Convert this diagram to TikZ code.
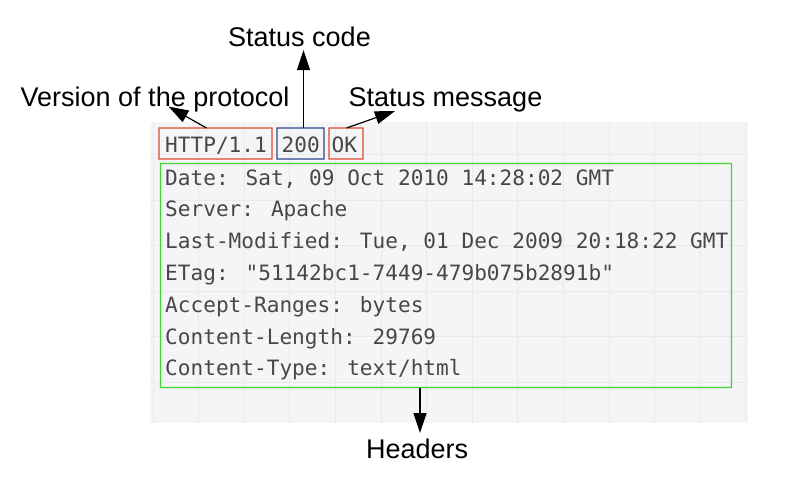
\documentclass[tikz,border=0pt]{standalone}
\usepackage{fontspec}
\setmainfont{Liberation Sans}
\newfontfamily\codefont{DejaVu Sans Mono}
\usetikzlibrary{arrows.meta}
\definecolor{bggrey}{HTML}{F4F5F6}
\definecolor{gridgrey}{HTML}{E9EAEC}
\definecolor{codegrey}{HTML}{474747}
\definecolor{boxred}{HTML}{E2482F}
\definecolor{boxblue}{HTML}{2B4A8C}
\definecolor{boxgreen}{HTML}{3FD431}
\tikzset{
  label/.style={anchor=base west, inner sep=0pt, font=\fontsize{27}{30}\selectfont},
  code/.style={anchor=base west, inner sep=0pt, text=codegrey, font=\codefont\fontsize{21.1}{24}\selectfont},
  pointer/.style={line width=1.2pt, -{Triangle[length=20pt,width=13pt]}}
}
\newcommand{\myframe}[5]{%
  \fill[#1, even odd rule] (#2-0.7,#3-0.7) rectangle (#4+0.7,#5+0.7)
     (#2+0.7,#3+0.7) rectangle (#4-0.7,#5-0.7);}
\begin{document}
\begin{tikzpicture}[x=1pt,y=-1pt]
\useasboundingbox (0,0) rectangle (797,483);
% background with grid
\fill[bggrey] (150,122) rectangle (748,423);
\begin{scope}
\clip (150,122) rectangle (748,423);
\foreach \gx in {153,198.6,244.2,289.8,335.4,381,426.6,472.2,517.8,563.4,609,654.6,700.2,745.8}
  \draw[gridgrey, line width=1pt] (\gx,122) -- (\gx,423);
\foreach \gy in {154.5,200,245.5,291,336.5,382}
  \draw[gridgrey, line width=1pt] (150,\gy) -- (748,\gy);
\end{scope}
% code text
\node[code] (ver) at (165,152) {HTTP/1.1};
\node[code] (code) at (281.5,152) {200};
\node[code] (msg) at (331.5,152) {OK};
\node[code] (l1) at (165,185) {Date: Sat, 09 Oct 2010 14:28:02 GMT};
\node[code] (l2) at (165,216.8) {Server: Apache};
\node[code] (l3) at (165,248.6) {Last-Modified: Tue, 01 Dec 2009 20:18:22 GMT};
\node[code] (l4) at (165,280.4) {ETag: "51142bc1-7449-479b075b2891b"};
\node[code] (l5) at (165,312.2) {Accept-Ranges: bytes};
\node[code] (l6) at (165,344) {Content-Length: 29769};
\node[code] (l7) at (165,375.8) {Content-Type: text/html};
% boxes
\myframe{boxred}{159}{128}{272}{159}
\myframe{boxblue}{277}{128}{324}{159}
\myframe{boxred}{329}{128}{363}{159}
\myframe{boxgreen}{160.5}{163.5}{731.5}{387.5}
\coordinate (vt) at (206.5,128);
\coordinate (ct) at (303.5,128);
\coordinate (mt) at (346.5,128);
\coordinate (hb) at (420,387.5);
% labels
\node[label] (lver) at (20.5,106) {Version of the protocol};
\node[label] (lcode) at (228,46.5) {Status code};
\node[label] (lmsg) at (348.5,106) {Status message};
\node[label] (lhead) at (366,458.5) {Headers};
\coordinate (vtip) at (168.5,106.5);
\coordinate (ctip) at (303.5,50);
\coordinate (mtip) at (395,111);
\coordinate (htip) at (420,433);
% arrows
\draw[pointer] (vt) -- (vtip);
\draw[pointer] (ct) -- (ctip);
\draw[pointer] (mt) -- (mtip);
\draw[pointer] (hb) -- (htip);
\end{tikzpicture}
\end{document}
